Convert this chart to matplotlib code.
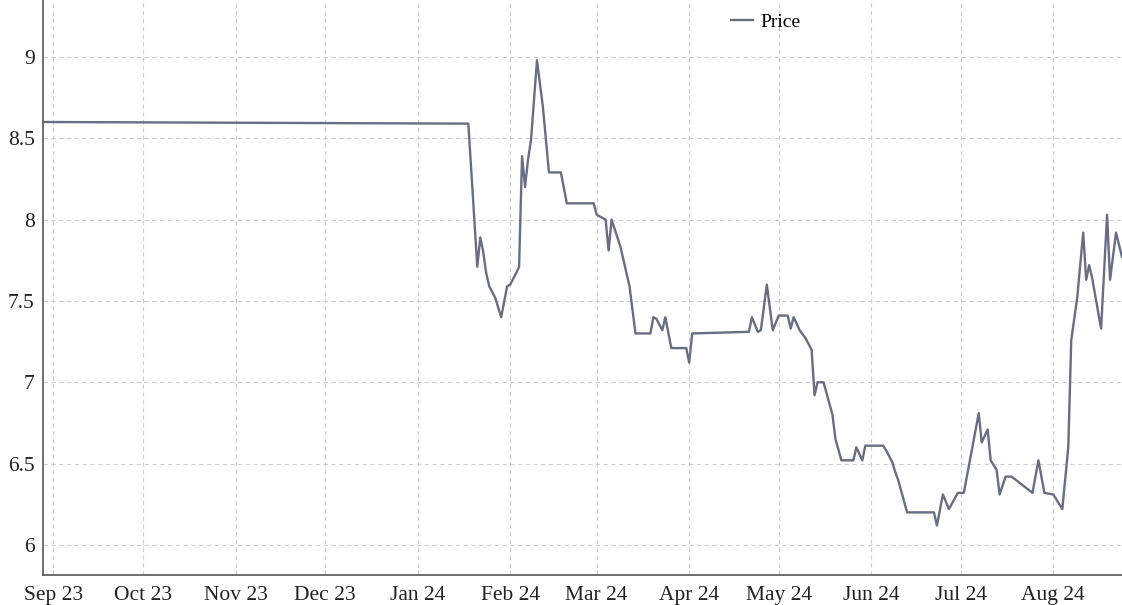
import matplotlib
matplotlib.use("Agg")
import matplotlib.pyplot as plt
import matplotlib.dates as mdates
import matplotlib.ticker as mticker
import pandas as pd

dates = [
    "2023-08-29", "2024-01-18", "2024-01-21", "2024-01-22", "2024-01-23", "2024-01-24",
    "2024-01-25", "2024-01-27", "2024-01-29", "2024-01-31", "2024-02-01", "2024-02-03",
    "2024-02-04", "2024-02-05", "2024-02-06", "2024-02-07", "2024-02-08", "2024-02-10",
    "2024-02-12", "2024-02-14", "2024-02-18", "2024-02-20", "2024-02-29", "2024-03-01",
    "2024-03-04", "2024-03-05", "2024-03-06", "2024-03-09", "2024-03-12", "2024-03-14",
    "2024-03-19", "2024-03-20", "2024-03-21", "2024-03-23", "2024-03-24", "2024-03-26",
    "2024-03-31", "2024-04-01", "2024-04-02", "2024-04-21", "2024-04-22", "2024-04-24",
    "2024-04-25", "2024-04-27", "2024-04-29", "2024-05-01", "2024-05-04", "2024-05-05",
    "2024-05-06", "2024-05-08", "2024-05-10", "2024-05-12", "2024-05-13", "2024-05-14",
    "2024-05-16", "2024-05-19", "2024-05-20", "2024-05-22", "2024-05-26", "2024-05-27",
    "2024-05-29", "2024-05-30", "2024-06-05", "2024-06-06", "2024-06-08", "2024-06-09",
    "2024-06-10", "2024-06-13", "2024-06-22", "2024-06-23", "2024-06-25", "2024-06-27",
    "2024-06-30", "2024-07-02", "2024-07-07", "2024-07-08", "2024-07-10", "2024-07-11",
    "2024-07-13", "2024-07-14", "2024-07-16", "2024-07-18", "2024-07-25", "2024-07-27",
    "2024-07-29", "2024-08-01", "2024-08-04", "2024-08-06", "2024-08-07", "2024-08-09",
    "2024-08-11", "2024-08-12", "2024-08-13", "2024-08-14", "2024-08-17", "2024-08-19",
    "2024-08-20", "2024-08-22", "2024-08-24",
]
prices = [
    8.60, 8.59, 7.71, 7.89, 7.80, 7.67,
    7.59, 7.52, 7.40, 7.59, 7.60, 7.67,
    7.71, 8.39, 8.20, 8.37, 8.49, 8.98,
    8.69, 8.29, 8.29, 8.10, 8.10, 8.03,
    8.00, 7.81, 8.00, 7.83, 7.59, 7.30,
    7.30, 7.40, 7.39, 7.32, 7.40, 7.21,
    7.21, 7.12, 7.30, 7.31, 7.40, 7.31,
    7.32, 7.60, 7.32, 7.41, 7.41, 7.33,
    7.40, 7.32, 7.27, 7.20, 6.92, 7.00,
    7.00, 6.80, 6.65, 6.52, 6.52, 6.60,
    6.52, 6.61, 6.61, 6.58, 6.51, 6.45,
    6.40, 6.20, 6.20, 6.12, 6.31, 6.22,
    6.32, 6.32, 6.81, 6.63, 6.71, 6.52,
    6.46, 6.31, 6.42, 6.42, 6.32, 6.52,
    6.32, 6.31, 6.22, 6.60, 7.26, 7.52,
    7.92, 7.63, 7.72, 7.64, 7.33, 8.03,
    7.63, 7.92, 7.77,
]
series_name = "Price"
y_ticks = [6, 6.5, 7, 7.5, 8, 8.5, 9]

x = pd.to_datetime(dates)

fig = plt.figure(figsize=(11.22, 6.05), dpi=100)
ax = fig.add_axes([43 / 1122, 30 / 605, 1 - 43 / 1122, 1 - 30 / 605])

line_color = "#696d84"
ax.plot(x, prices, color=line_color, linewidth=1.7, label=series_name)

ax.set_xlim(pd.Timestamp("2023-08-28 12:00"), pd.Timestamp("2024-08-24"))
ax.set_ylim(5.815, 9.35)

ax.xaxis.set_major_locator(mdates.MonthLocator())
ax.xaxis.set_major_formatter(mdates.DateFormatter("%b %y"))
ax.yaxis.set_major_locator(mticker.FixedLocator(y_ticks))
ax.yaxis.set_major_formatter(mticker.FormatStrFormatter("%g"))

ax.grid(True, color="#cfcfcf", linestyle=(0, (4, 3)), linewidth=0.8)
ax.set_axisbelow(True)

for side in ("top", "right"):
    ax.spines[side].set_visible(False)
for side in ("left", "bottom"):
    ax.spines[side].set_color("#555555")
    ax.spines[side].set_linewidth(1.2)

ax.tick_params(axis="x", length=0, pad=8, colors="#222222")
ax.tick_params(axis="y", length=0, pad=6, colors="#222222")
for lbl in ax.get_xticklabels() + ax.get_yticklabels():
    lbl.set_fontfamily("Liberation Serif")
    lbl.set_fontsize(15.5)
    lbl.set_color("#222222")

fig.legend(loc="center", bbox_to_anchor=(766 / 1122, 1 - 22 / 605),
           frameon=False, handlelength=1.1, handletextpad=0.4,
           prop={"family": "Liberation Serif", "size": 14})

fig.savefig("out.png", dpi=100, facecolor="white")
